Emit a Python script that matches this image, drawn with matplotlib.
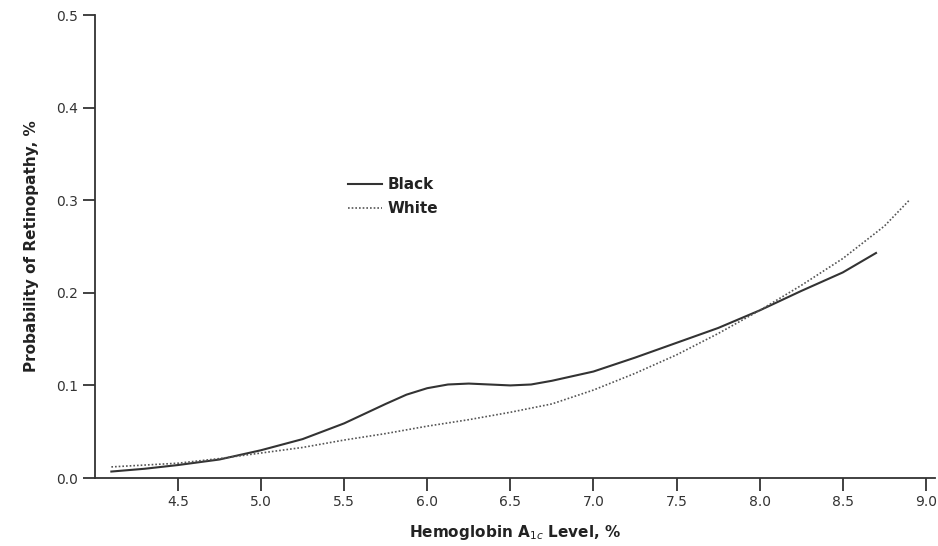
import matplotlib
matplotlib.use('Agg')
import matplotlib.pyplot as plt

# values (HbA1c %, probability)
black_x = [4.1, 4.3, 4.5, 4.75, 5.0, 5.25, 5.5, 5.75, 5.875, 6.0, 6.125,
           6.25, 6.375, 6.5, 6.625, 6.75, 7.0, 7.25, 7.5, 7.75, 8.0, 8.25,
           8.5, 8.7]
black_y = [0.007, 0.010, 0.014, 0.020, 0.030, 0.042, 0.059, 0.080, 0.090,
           0.097, 0.101, 0.102, 0.101, 0.100, 0.101, 0.105, 0.115, 0.130,
           0.146, 0.162, 0.181, 0.202, 0.222, 0.243]
white_x = [4.1, 4.5, 4.75, 5.0, 5.25, 5.5, 5.75, 6.0, 6.25, 6.5, 6.75,
           7.0, 7.25, 7.5, 7.75, 8.0, 8.25, 8.5, 8.75, 8.9]
white_y = [0.012, 0.016, 0.021, 0.027, 0.033, 0.041, 0.048, 0.056, 0.063,
           0.071, 0.080, 0.095, 0.113, 0.133, 0.156, 0.181, 0.208, 0.237,
           0.272, 0.300]
x_ticks = [4.5, 5.0, 5.5, 6.0, 6.5, 7.0, 7.5, 8.0, 8.5, 9.0]
y_ticks = [0.0, 0.1, 0.2, 0.3, 0.4, 0.5]

plt.rcParams['font.family'] = ['DejaVu Sans']

fig = plt.figure(figsize=(9.38, 5.46), dpi=100)
ax = fig.add_axes([0.101, 0.1245, 0.896, 0.848])

ax.plot(black_x, black_y, color='#333333', lw=1.5, label='Black')
ax.plot(white_x, white_y, color='#555555', lw=1.2, ls=(0, (1, 1.2)),
        label='White')

ax.set_xlim(4.0, 9.056)
ax.set_ylim(0, 0.5)
ax.set_xticks(x_ticks)
ax.set_xticklabels(['%.1f' % v for v in x_ticks])
ax.set_yticks(y_ticks)
ax.set_yticklabels(['%.1f' % v for v in y_ticks])

for s in ['top', 'right']:
    ax.spines[s].set_visible(False)
for s in ['left', 'bottom']:
    ax.spines[s].set_color('#333333')
    ax.spines[s].set_linewidth(1.3)
ax.tick_params(direction='out', length=9, width=1.3, color='#333333',
               labelsize=10, labelcolor='#333333', pad=3)

ax.set_xlabel('Hemoglobin A$_{1c}$ Level, %', fontsize=11,
              fontweight='bold', color='#222222', labelpad=10)
ax.set_ylabel('Probability of Retinopathy, %', fontsize=11,
              fontweight='bold', color='#222222', labelpad=12)

leg = ax.legend(loc='upper left', bbox_to_anchor=(0.285, 0.68),
                frameon=False, handlelength=2.2, handletextpad=0.4,
                labelspacing=0.6,
                prop={'weight': 'bold', 'size': 11})
for t in leg.get_texts():
    t.set_color('#222222')

fig.savefig('out.png', dpi=100)
